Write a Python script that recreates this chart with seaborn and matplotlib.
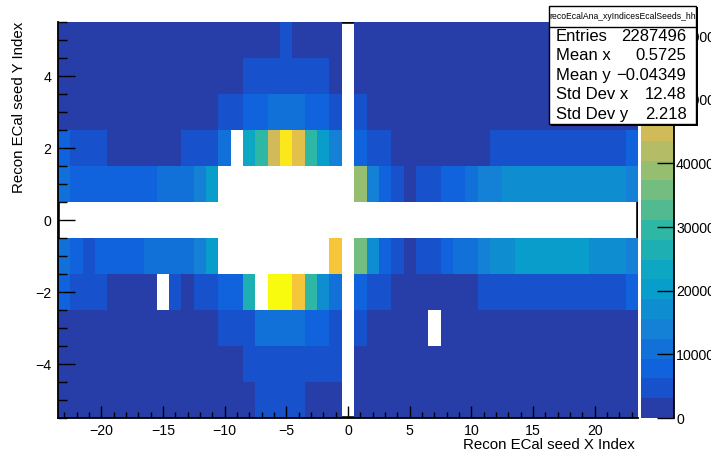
import numpy as np
import pandas as pd
import matplotlib
matplotlib.use("Agg")
import matplotlib.pyplot as plt
from matplotlib.colors import ListedColormap
from matplotlib.patches import Rectangle
from matplotlib.lines import Line2D
from matplotlib.transforms import Bbox, TransformedBbox
import seaborn as sns

plt.rcParams['font.family'] = ['Liberation Sans', 'DejaVu Sans']

# ---------------- data (counts per cell, 0 = empty) ----------------
x_index = list(range(-23, 24))          # 47 columns
y_index = [5, 4, 3, 2, 1, 0, -1, -2, -3, -4, -5]   # rows, top to bottom

row_p5 = [1600, 1600, 1600, 1600, 1600, 1600, 1600, 1600, 1600, 1600, 1600, 1600, 1600, 1600, 1600, 1600, 1600, 1600,
          4700, 1600, 1600, 1600, 1600, 0,
          1600, 1600, 1600, 1600, 1600, 1600, 1600, 1600, 1600, 1600, 1600, 1600, 1600, 1600, 1600, 1600, 1600, 1600, 1600, 1600, 1600, 1600, 1600]
row_p4 = [1600, 1600, 1600, 1600, 1600, 1600, 1600, 1600, 1600, 1600, 1600, 1600, 1600, 1600, 1600,
          4700, 4700, 4700, 4700, 4700, 4700, 4700, 1600, 0,
          1600, 1600, 1600, 1600, 1600, 1600, 1600, 1600, 1600, 1600, 1600, 1600, 1600, 1600, 1600, 1600, 1600, 1600, 1600, 1600, 1600, 1600, 1600]
row_p3 = [1600, 1600, 1600, 1600, 1600, 1600, 1600, 1600, 1600, 1600, 1600, 1600, 1600,
          4700, 4700, 7800, 7800, 10900, 10900, 10900, 7800, 7800, 4700, 0,
          4700, 1600, 1600, 1600, 1600, 1600, 1600, 1600, 1600, 1600, 1600, 1600, 1600, 1600, 1600, 1600, 1600, 1600, 1600, 1600, 1600, 1600, 1600]
row_p2 = [7800, 4700, 4700, 4700, 1600, 1600, 1600, 1600, 1600, 1600, 4700, 4700, 4700,
          10900, 0, 23300, 29500, 45000, 57400, 48100, 29500, 20200, 14000, 0,
          7800, 4700, 4700, 1600, 1600, 1600, 1600, 1600, 1600, 1600, 1600,
          4700, 4700, 4700, 4700, 4700, 4700, 4700, 4700, 4700, 4700, 4700, 7800]
row_p1 = [10900, 7800, 7800, 7800, 7800, 7800, 7800, 7800, 10900, 10900, 10900, 14000, 20200,
          0, 0, 0, 0, 0, 0, 0, 0, 0, 0, 0,
          38800, 14000, 7800, 4700, 1600, 4700, 4700, 7800, 7800, 10900, 14000, 14000,
          17100, 17100, 17100, 17100, 17100, 17100, 17100, 17100, 17100, 17100, 14000]
row_0 = [0, 0, 0, 0, 0, 0, 0, 0, 0, 0, 0, 0, 0, 0, 0, 0, 0, 0, 0, 0, 0, 0, 0, 0,
         0, 0, 0, 0, 0, 0, 0, 0, 0, 0, 0, 0, 0, 0, 0, 0, 0, 0, 0, 0, 0, 0, 0]
row_m1 = [10900, 7800, 4700, 7800, 7800, 7800, 7800, 10900, 10900, 10900, 10900, 14000, 20200,
          0, 0, 0, 0, 0, 0, 0, 0, 0, 51200, 0,
          35700, 17100, 7800, 4700, 1600, 4700, 4700, 7800, 10900, 10900, 14000, 17100, 17100,
          20200, 20200, 20200, 20200, 20200, 20200, 17100, 17100, 17100, 14000]
row_m2 = [7800, 4700, 4700, 4700, 1600, 1600, 1600, 1600, 0, 4700, 1600, 4700, 4700,
          7800, 7800, 26400, 0, 61900, 60800, 51200, 29500, 17100, 10900, 0,
          7800, 4700, 4700, 1600, 1600, 1600, 1600, 1600, 1600, 1600,
          4700, 4700, 4700, 4700, 4700, 4700, 4700, 4700, 4700, 4700, 4700, 4700, 7800]
row_m3 = [1600, 1600, 1600, 1600, 1600, 1600, 1600, 1600, 1600, 1600, 1600, 1600, 1600,
          4700, 4700, 4700, 10900, 10900, 10900, 10900, 7800, 7800, 4700, 0,
          4700, 1600, 1600, 1600, 1600, 1600, 0,
          1600, 1600, 1600, 1600, 1600, 1600, 1600, 1600, 1600, 1600, 1600, 1600, 1600, 1600, 1600, 1600]
row_m4 = [1600, 1600, 1600, 1600, 1600, 1600, 1600, 1600, 1600, 1600, 1600, 1600, 1600, 1600, 1600,
          4700, 4700, 4700, 4700, 4700, 4700, 4700, 4700, 0,
          1600, 1600, 1600, 1600, 1600, 1600, 1600, 1600, 1600, 1600, 1600, 1600, 1600, 1600, 1600, 1600, 1600, 1600, 1600, 1600, 1600, 1600, 1600]
row_m5 = [1600, 1600, 1600, 1600, 1600, 1600, 1600, 1600, 1600, 1600, 1600, 1600, 1600, 1600, 1600, 1600,
          4700, 4700, 4700, 4700, 1600, 1600, 1600, 0,
          1600, 1600, 1600, 1600, 1600, 1600, 1600, 1600, 1600, 1600, 1600, 1600, 1600, 1600, 1600, 1600, 1600, 1600, 1600, 1600, 1600, 1600, 1600]

z_max = 62200
x_ticks = [-20, -15, -10, -5, 0, 5, 10, 15, 20]
y_ticks = [-4, -2, 0, 2, 4]
cbar_ticks = [0, 10000, 20000, 30000, 40000, 50000, 60000]

hist_name = "recoEcalAna_xyIndicesEcalSeeds_hh"
stat_labels = ["Entries", "Mean x", "Mean y", "Std Dev x", "Std Dev y"]
stat_values = ["2287496", "0.5725", "\u22120.04349", "12.48", "2.218"]

# ---------------- colour palette (ROOT kBird, 20 contours) ----------------
stops = [0.0, 0.125, 0.25, 0.375, 0.5, 0.625, 0.75, 0.875, 1.0]
red = [0.2082, 0.0592, 0.0780, 0.0232, 0.1802, 0.5301, 0.8186, 0.9956, 0.9764]
green = [0.1664, 0.3599, 0.5041, 0.6419, 0.7178, 0.7492, 0.7328, 0.7862, 0.9832]
blue = [0.5293, 0.8684, 0.8385, 0.7914, 0.6425, 0.4662, 0.3499, 0.1968, 0.0539]
ncont = 20
cols = []
for i in range(ncont):
    idx = int((i + 0.99) * 255 / ncont)
    f = min(idx / 254.0, 1.0)
    cols.append((np.interp(f, stops, red), np.interp(f, stops, green), np.interp(f, stops, blue)))
cmap = ListedColormap(cols)

rows = [row_p5, row_p4, row_p3, row_p2, row_p1, row_0, row_m1, row_m2, row_m3, row_m4, row_m5]
df = pd.DataFrame(rows, index=y_index, columns=x_index).astype(float)
mask = df.values == 0

# ---------------- figure ----------------
W, H = 715, 455
fig = plt.figure(figsize=(W / 100, H / 100), dpi=100)
fig.patch.set_facecolor('white')

def fx(px):
    return px / W

def fy(py):
    return 1 - py / H

ax = fig.add_axes([fx(58), fy(418), (638 - 58) / W, (418 - 22) / H])
cax = fig.add_axes([fx(640.7), fy(418), (674 - 640.7) / W, (418 - 22) / H])

sns.heatmap(df, mask=mask, cmap=cmap, vmin=0, vmax=z_max, ax=ax, cbar_ax=cax,
            xticklabels=False, yticklabels=False, linewidths=0)

# ROOT-like frame: left/bottom axes on top, top/right frame only visible under empty cells
ax.spines['left'].set_visible(True)
ax.spines['bottom'].set_visible(True)
ax.spines['top'].set_visible(False)
ax.spines['right'].set_visible(False)
for name in ('left', 'bottom'):
    ax.spines[name].set_color('black')
    ax.spines[name].set_linewidth(1.3)
ax.add_patch(Rectangle((0, 0), 1, 1, transform=ax.transAxes, fill=False,
                       edgecolor='black', lw=2.6, zorder=0.5, clip_on=True))

ncol = len(x_index)
nrow = len(y_index)
x0 = x_index[0] - 0.5
y_top = y_index[0] + 0.5
ax.set_xlim(0, ncol)
ax.set_ylim(nrow, 0)

ax.set_xticks([v - x0 for v in x_ticks])
ax.set_xticklabels([str(v).replace('-', '\u2212') for v in x_ticks])
ax.set_xticks([v - x0 for v in x_index], minor=True)
ax.set_yticks([y_top - v for v in y_ticks])
ax.set_yticklabels([str(v).replace('-', '\u2212') for v in y_ticks], rotation=0)
ax.set_yticks(list(np.arange(0, nrow + 0.01, 0.5)), minor=True)

ax.tick_params(axis='x', which='major', direction='in', length=8.6, width=1.0, pad=4,
               labelsize=10.2, bottom=True, top=False, color='black', labelcolor='black')
ax.tick_params(axis='x', which='minor', direction='in', length=4.3, width=1.0,
               bottom=True, top=False, color='black')
ax.tick_params(axis='y', which='major', direction='in', length=12.5, width=1.0, pad=4.7,
               labelsize=10.2, left=True, right=False, color='black', labelcolor='black')
ax.tick_params(axis='y', which='minor', direction='in', length=6.3, width=1.0,
               left=True, right=False, color='black')
ax.set_xlabel('')
ax.set_ylabel('')

# axis titles
fig.text(fx(635), fy(445), "Recon ECal seed X Index", ha='right', va='center', fontsize=10.8)
fig.text(fx(19), fy(22), "Recon ECal seed Y Index", ha='center', va='top', rotation=90, fontsize=10.8)

# colour bar
cb = ax.collections[0].colorbar
cb.outline.set_linewidth(0)
cb.set_ticks(cbar_ticks)
cb.set_ticklabels([str(v) for v in cbar_ticks])
cax.yaxis.set_ticks_position('right')
cax.tick_params(axis='y', which='major', direction='in', length=12.2, width=1.0, pad=1.5,
                labelsize=10.2, right=True, left=False, color='black')
cax.tick_params(axis='y', which='minor', length=0)
cax.add_line(Line2D([1, 1], [0, 1], transform=cax.transAxes, color='black', lw=1.3, clip_on=False))
clip_box = TransformedBbox(Bbox([[0, 0], [711 / W, 1]]), fig.transFigure)
for t in cax.get_yticklabels():
    t.set_clip_box(clip_box)
    t.set_clip_on(True)

# stats box
bx0, bx1, by0, by1 = 549, 696, 6, 124
fig.patches.append(Rectangle((fx(bx0 + 1.5), fy(by1 + 1.5)), (bx1 - bx0) / W, (by1 - by0) / H,
                             transform=fig.transFigure, facecolor='black', edgecolor='none', zorder=5))
fig.patches.append(Rectangle((fx(bx0), fy(by1)), (bx1 - bx0) / W, (by1 - by0) / H,
                             transform=fig.transFigure, facecolor='white', edgecolor='black', lw=1.0, zorder=6))
fig.lines.append(Line2D([fx(bx0), fx(bx1)], [fy(26.7), fy(26.7)], transform=fig.transFigure,
                        color='black', lw=1.0, zorder=7))
fig.text(fx((bx0 + bx1) / 2), fy(16.5), hist_name, ha='center', va='center', fontsize=6.2, zorder=8)
line_h = (by1 - 26.7) / len(stat_labels)
for k, (lab, val) in enumerate(zip(stat_labels, stat_values)):
    yc = 26.7 + line_h * (k + 0.5)
    fig.text(fx(556), fy(yc), lab, ha='left', va='center', fontsize=12, zorder=8)
    fig.text(fx(686.5), fy(yc), val, ha='right', va='center', fontsize=12, zorder=8)

fig.savefig("out.png", dpi=100)
